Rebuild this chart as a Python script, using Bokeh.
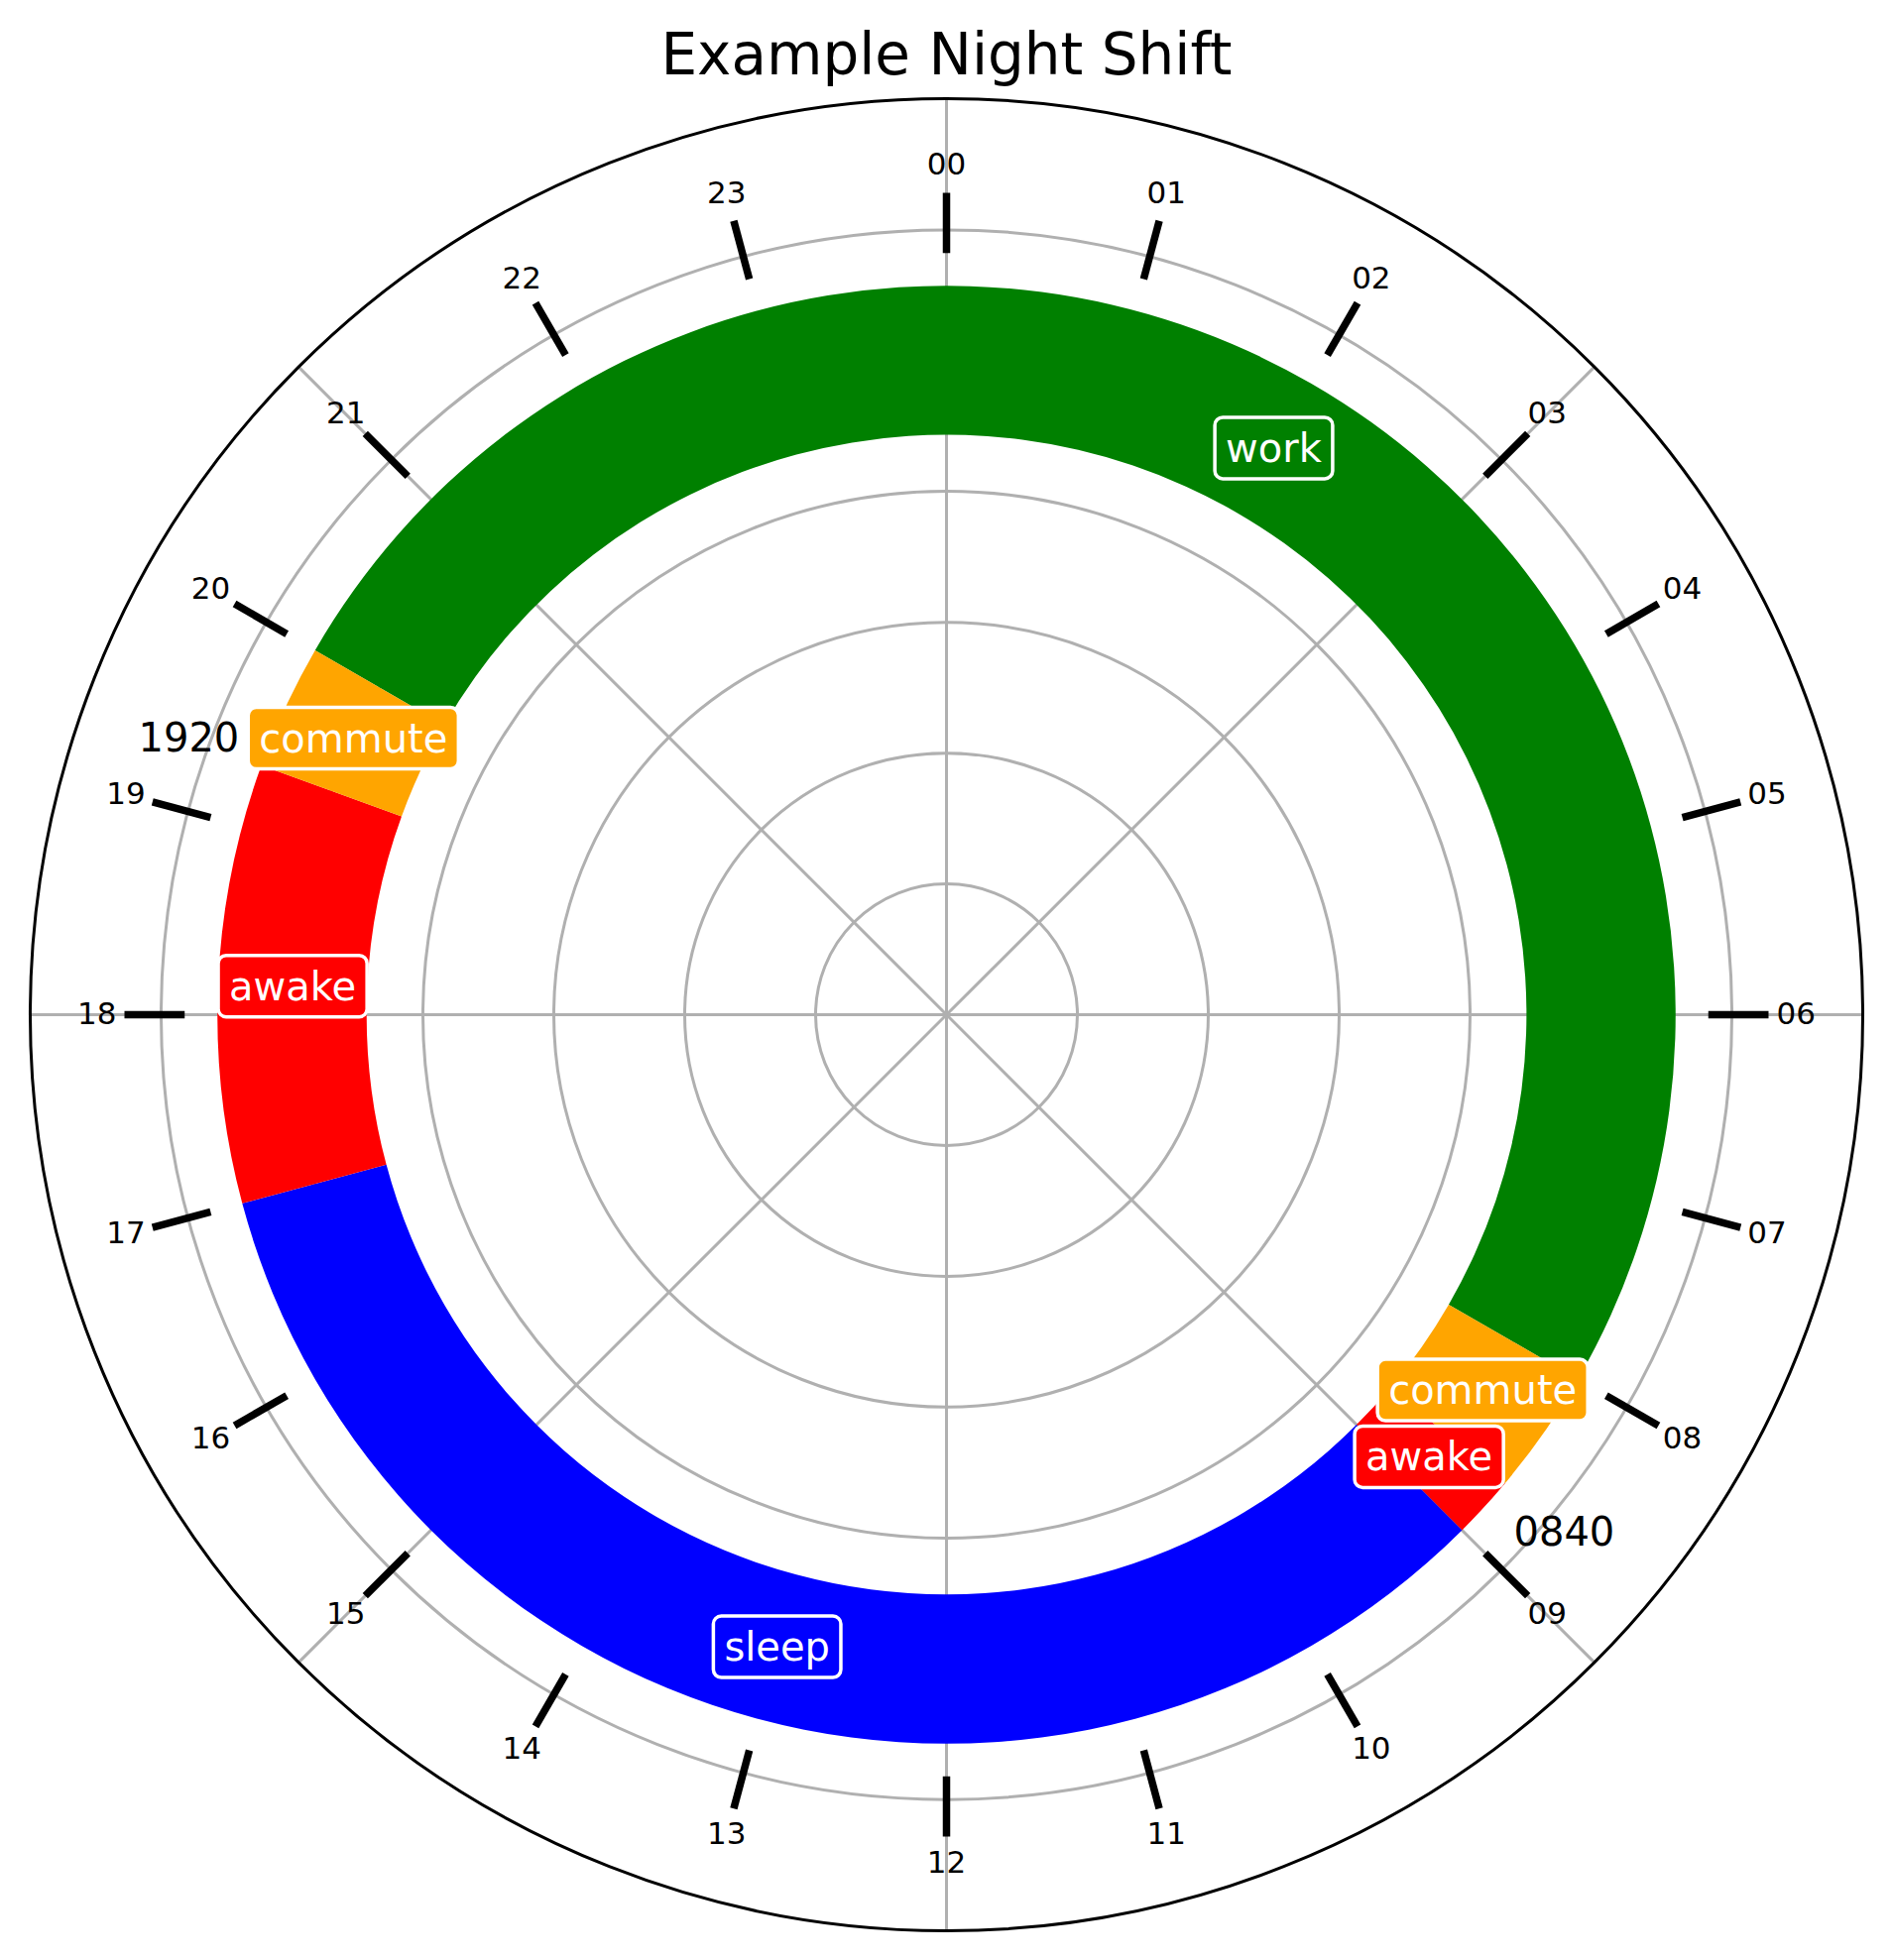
import math
from bokeh.plotting import figure
from bokeh.models import Range1d, ColumnDataSource
from bokeh.core.properties import value
from bokeh.embed import file_html
from bokeh.resources import INLINE

# ---- data ----
title_text = "Example Night Shift"
segment_labels = ["work", "commute", "awake", "sleep", "awake", "commute"]
segment_starts = ["20:00", "08:00", "08:40", "09:00", "17:00", "19:20"]
segment_ends = ["08:00", "08:40", "09:00", "17:00", "19:20", "20:00"]
segment_colors = ["green", "orange", "red", "blue", "red", "orange"]
hour_labels = ["00", "01", "02", "03", "04", "05", "06", "07", "08", "09", "10", "11",
               "12", "13", "14", "15", "16", "17", "18", "19", "20", "21", "22", "23"]
marker_times = ["19:20", "08:40"]
marker_labels = ["1920", "0840"]
grid_radii = [1, 2, 3, 4, 5, 6]
grid_angles_deg = [0, 45, 90, 135, 180, 225, 270, 315]
r_max = 7

# ---- helpers ----
def to_hours(s):
    h, m = s.split(":")
    return int(h) + int(m) / 60.0

def clock_xy(hours, r):
    th = hours / 24.0 * 2 * math.pi
    return r * math.sin(th), r * math.cos(th)

FONT = value("DejaVu Sans")
BAND_R = 5.0
BAND_HALF = 0.57

p = figure(width=1908, height=1977, output_backend="svg", toolbar_location=None,
           x_range=Range1d(-7.227, 7.227), y_range=Range1d(-7.227, 7.75),
           x_axis_type=None, y_axis_type=None, min_border=0,
           outline_line_color=None, background_fill_color="white",
           border_fill_color="white")

# grid circles
p.circle(x=[0] * len(grid_radii), y=[0] * len(grid_radii), radius=grid_radii,
         fill_color=None, line_color="#b0b0b0", line_width=3)
# radial grid lines
gx1, gy1 = [], []
for a in grid_angles_deg:
    x, y = clock_xy(a / 15.0, r_max)
    gx1.append(x); gy1.append(y)
p.segment(x0=[0] * len(gx1), y0=[0] * len(gx1), x1=gx1, y1=gy1,
          line_color="#b0b0b0", line_width=3)

# band segments
starts, ends, mids = [], [], []
for s, e in zip(segment_starts, segment_ends):
    t0, t1 = to_hours(s), to_hours(e)
    if t1 <= t0:
        t1 += 24
    starts.append(t0); ends.append(t1); mids.append((t0 + t1) / 2)
seg_src = ColumnDataSource(dict(
    start=[math.pi / 2 - t1 / 24 * 2 * math.pi for t1 in ends],
    end=[math.pi / 2 - t0 / 24 * 2 * math.pi for t0 in starts],
    color=segment_colors,
))
p.annular_wedge(x=0, y=0, inner_radius=BAND_R - BAND_HALF, outer_radius=BAND_R + BAND_HALF,
                start_angle="start", end_angle="end", color="color", source=seg_src,
                line_color=None)

# hour ticks
tx0, ty0, tx1, ty1, lx, ly = [], [], [], [], [], []
for h in range(len(hour_labels)):
    a, b = clock_xy(h, 5.82)
    c, d = clock_xy(h, 6.28)
    tx0.append(a); ty0.append(b); tx1.append(c); ty1.append(d)
    x, y = clock_xy(h, 6.49)
    lx.append(x); ly.append(y)
p.segment(x0=tx0, y0=ty0, x1=tx1, y1=ty1, line_color="black", line_width=7.5,
          line_cap="butt")
p.text(x=lx, y=ly, text=hour_labels, text_align="center", text_baseline="middle",
       text_font=FONT, text_font_size="31px", text_color="black", y_offset=-2)

# outer circle
p.circle(x=[0], y=[0], radius=[r_max], fill_color=None, line_color="black", line_width=3)

# segment labels
lab_x, lab_y = [], []
for m in mids:
    x, y = clock_xy(m, BAND_R)
    lab_x.append(x); lab_y.append(y)
lab_src = ColumnDataSource(dict(x=lab_x, y=lab_y, text=segment_labels, color=segment_colors))
p.text(x="x", y="y", text="text", source=lab_src, text_align="center",
       text_baseline="middle", text_font=FONT, text_font_size="40px",
       text_color="white", background_fill_color="color",
       border_line_color="white", border_line_width=3.5, border_radius=8,
       padding=(11, 8))

# time markers
mx, my = [], []
for t in marker_times:
    x, y = clock_xy(to_hours(t), 6.16)
    mx.append(x); my.append(y)
p.text(x=mx, y=my, text=marker_labels, text_align="center", text_baseline="middle",
       text_font=FONT, text_font_size="40px", text_color="black", y_offset=-2)

# title
p.text(x=[0], y=[(1023 - 54) / 132.0], text=[title_text], text_align="center",
       text_baseline="alphabetic", text_font=FONT, text_font_size="58px",
       text_color="black")

open("out.html", "w").write(file_html(p, INLINE))
